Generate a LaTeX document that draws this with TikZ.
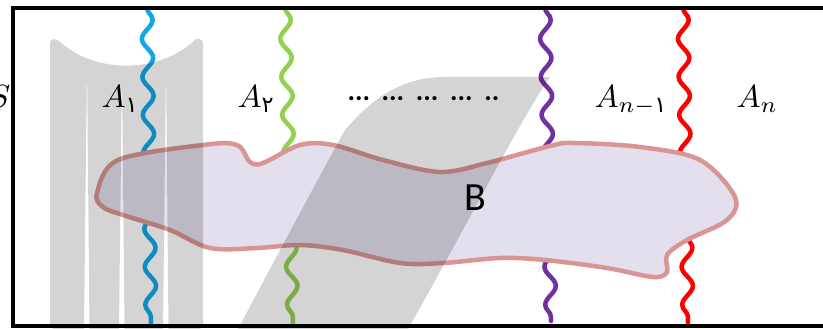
\documentclass[tikz,border=0pt]{standalone}
\usepackage{amsmath}
\usepackage{fontspec}
\usetikzlibrary{decorations.pathmorphing}
\newfontfamily\labelfont{Carlito}
\newfontfamily\fadigit{DejaVu Sans}
\definecolor{wireblue}{HTML}{12A8E6}
\definecolor{wiregreen}{HTML}{92D050}
\definecolor{wirepurple}{HTML}{7030A0}
\definecolor{wirered}{HTML}{FF0000}
\definecolor{blobfill}{HTML}{E4DFEC}
\definecolor{blobedge}{HTML}{D99594}
\tikzstyle{wire} = [line width=4.5pt, line cap=round, decorate, decoration={snake, segment length=38pt, amplitude=5.5pt}]
\tikzstyle{greyband} = [fill=black, fill opacity=0.17, draw=none]
\tikzstyle{region} = [fill=blobfill, draw=blobedge, line width=4.5pt]
\tikzstyle{setlabel} = [inner sep=0pt, scale=3.2]

\begin{document}
\begin{tikzpicture}[x=1pt, y=-1pt] % one unit = one pixel of the sketch
\useasboundingbox (0,0) rectangle (823,329);

% End points of the four wavy lines
\coordinate (w1top) at (147,8);   \coordinate (w1bot) at (151,323);
\coordinate (w2top) at (285,8);   \coordinate (w2bot) at (293,323);
\coordinate (w3top) at (545,8);   \coordinate (w3bot) at (551,321);
\coordinate (w4top) at (683,8);   \coordinate (w4bot) at (688,323);

% Draw the wavy lines
\draw [wire, wireblue]   (w1top) -- (w1bot);
\draw [wire, wiregreen]  (w2top) -- (w2bot);
\draw [wire, wirepurple] (w3top) -- (w3bot);
\draw [wire, wirered]    (w4top) -- (w4bot);

% The set B
\draw [region] plot [smooth cycle, tension=0.55] coordinates {
  (97,193) (118,160) (203,145) (237,145) (250,162) (263,163) (300,145)
  (333,145) (383,160) (440,172) (487,163) (550,146) (573,143) (640,147)
  (700,160) (735,197) (727,220) (687,240) (667,255) (667,272) (653,277)
  (607,268) (545,260) (500,258) (443,263) (400,263) (343,250) (300,245)
  (257,248) (210,248) (170,230) (123,215) (103,207)};
\node (B) [setlabel, scale=1.25, anchor=base, font=\labelfont] at (475,210) {B};

% Grey bands on top
\fill [greyband, even odd rule, rounded corners=4pt]
  (50,329) -- (50,39) -- (57,39) [sharp corners] .. controls (95,74) and (160,74) .. (196,39)
  [rounded corners=4pt] -- (203,39) -- (203,329) -- cycle
  [sharp corners] (87,62) -- (89.5,329) -- (84,329) -- cycle
  (122,68) -- (124.5,329) -- (119,329) -- cycle
  (166,63) -- (168.5,329) -- (163,329) -- cycle;
\fill [greyband] (238,329) .. controls (280,250) and (320,175) .. (345,130)
  .. controls (375,95) and (405,77) .. (445,77) -- (550,77)
  .. controls (520,120) and (470,220) .. (408,329) -- cycle;

% Frame of S
\draw [line width=4pt] (830,8) -- (13,8) -- (13,326) -- (830,326);

% Labels
\node (S)    [setlabel, anchor=base east] at (11,108)  {$S$};
\node (A1)   [setlabel, anchor=base west] at (101,108) {$A_{\text{\fadigit ۱}}$};
\node (A2)   [setlabel, anchor=base west] at (237,108) {$A_{\text{\fadigit ۲}}$};
\node (dots) [setlabel, scale=0.875, anchor=base west, font=\labelfont\bfseries] at (347,101)
  {...\hspace{4.2pt}...\hspace{4.2pt}...\hspace{4.2pt}...\hspace{4.2pt}..};
\node (An1)  [setlabel, anchor=base west] at (594,108) {$A_{n-\text{\fadigit ۱}}$};
\node (An)   [setlabel, anchor=base west] at (736,108) {$A_n$};

\end{tikzpicture}
\end{document}
